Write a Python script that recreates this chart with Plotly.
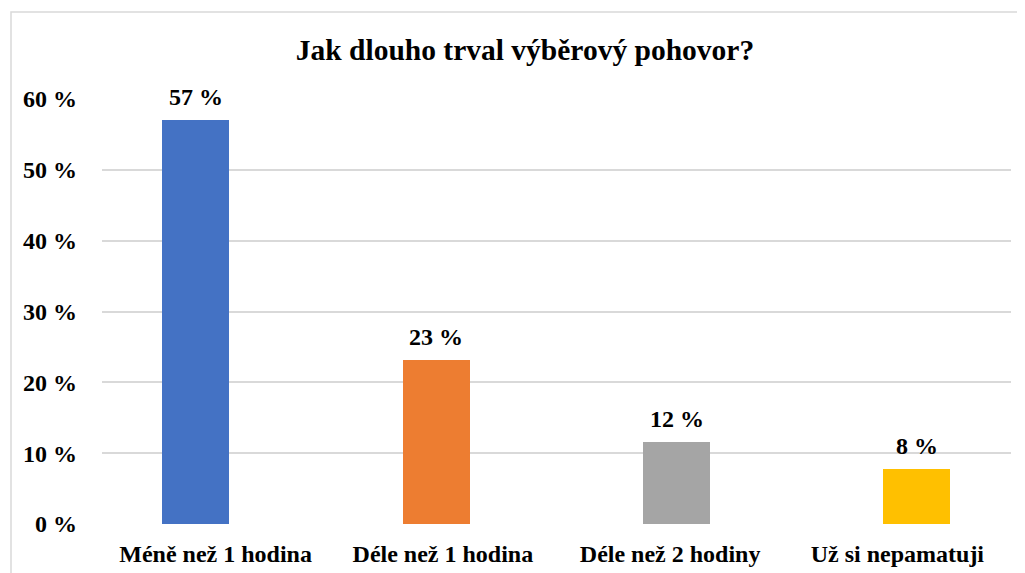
import plotly.graph_objects as go

categories = ["Méně než 1 hodina", "Déle než 1 hodina", "Déle než 2 hodiny", "Už si nepamatuji"]
values = [57.0, 23.1, 11.6, 7.7]
value_labels = ["57 %", "23 %", "12 %", "8 %"]
colors = ["#4472C4", "#ED7D31", "#A5A5A5", "#FFC000"]
y_ticks = [0, 10, 20, 30, 40, 50, 60]
y_tick_labels = ["0 %", "10 %", "20 %", "30 %", "40 %", "50 %", "60 %"]

FONT = "Liberation Serif"
OFF = 8  # page body margin

W, H = 1025 - OFF, 573 - OFF
# plot area in screenshot pixels
px_left, px_right, px_top, px_bottom = 102, 1011, 99, 524
ml = px_left - OFF
mr = 1025 - px_right
mt = px_top - OFF
mb = 573 - px_bottom
pw, ph = px_right - px_left, px_bottom - px_top

idx = list(range(len(categories)))

fig = go.Figure()
fig.add_trace(go.Bar(
    x=idx,
    y=values,
    marker=dict(color=colors, line=dict(width=0)),
    width=0.279,
    hoverinfo="skip",
    xaxis="x", yaxis="y",
))
# invisible trace that carries the category label axis
fig.add_trace(go.Scatter(
    x=idx, y=[0] * len(idx), mode="markers",
    marker=dict(opacity=0), hoverinfo="skip", showlegend=False,
    xaxis="x2", yaxis="y",
))

for i, (v, t) in enumerate(zip(values, value_labels)):
    fig.add_annotation(
        x=i, y=v, xref="x", yref="y", text=f"<b>{t}</b>", showarrow=False,
        yanchor="bottom", yshift=8,
        font=dict(family=FONT, size=24, color="#000000"),
    )

def px_to_paper_x(px):
    return (px - px_left) / pw

def px_to_paper_y(py):
    return (px_bottom - py) / ph

fig.add_shape(
    type="rect", xref="paper", yref="paper",
    x0=px_to_paper_x(11), x1=px_to_paper_x(1040),
    y0=px_to_paper_y(590), y1=px_to_paper_y(12),
    line=dict(color="#D9D9D9", width=1.5), fillcolor="rgba(0,0,0,0)",
    layer="below",
)

fig.update_layout(
    width=W, height=H,
    margin=dict(l=ml, r=mr, t=mt, b=mb, pad=0, autoexpand=False),
    paper_bgcolor="white", plot_bgcolor="white",
    showlegend=False,
    title=dict(
        text="<b>Jak dlouho trval výběrový pohovor?</b>",
        x=(525 - OFF) / W, xanchor="center",
        y=1 - (50 - OFF) / H, yanchor="middle",
        xref="container", yref="container",
        font=dict(family=FONT, size=29.5, color="#000000"),
    ),
    font=dict(family=FONT, color="#000000"),
    xaxis=dict(
        range=[-0.391, 3.392],
        showticklabels=False,
        showgrid=False, zeroline=False, showline=False,
        ticks="", automargin=False,
        fixedrange=True,
    ),
    xaxis2=dict(
        overlaying="x", side="bottom",
        range=[-0.5, 3.5],
        tickmode="array",
        tickvals=idx,
        ticktext=[f"<b>{c}</b>" for c in categories],
        showgrid=False, zeroline=False, showline=False,
        ticks="", ticklabelstandoff=13, automargin=False,
        tickfont=dict(family=FONT, size=24, color="#000000"),
        fixedrange=True,
    ),
    yaxis=dict(
        range=[0, 60],
        tickmode="array",
        tickvals=y_ticks,
        ticktext=[f"<b>{t}</b>" for t in y_tick_labels],
        showgrid=True, gridcolor="#D9D9D9", gridwidth=1.5,
        zeroline=False, showline=False, ticks="",
        ticklabelstandoff=24, automargin=False,
        tickfont=dict(family=FONT, size=24, color="#000000"),
        fixedrange=True,
    ),
    bargap=0,
)

fig.write_html("out.html")
